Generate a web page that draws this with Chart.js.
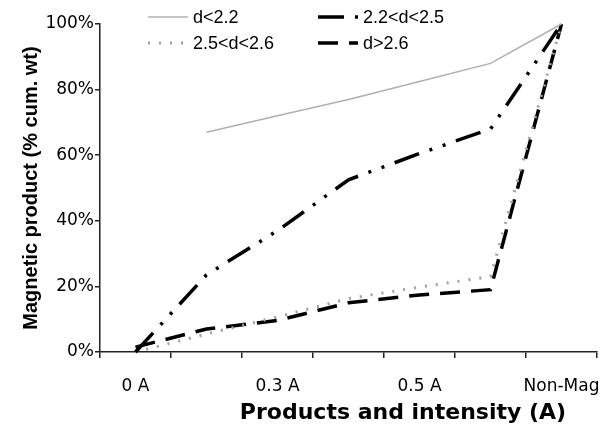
<!DOCTYPE html>
<html>
<head>
    <meta charset="utf-8">
    <script src="https://cdn.jsdelivr.net/npm/chart.js@4.4.0/dist/chart.umd.min.js"></script>
    <style>
        body { margin: 0; background: #fff; }
        #wrap { width: 603px; height: 428px; position: relative; }
    </style>
</head>
<body>
    <div id="wrap"><canvas id="plot"></canvas></div>
    <script>
        // categories (only every other one carries a label in the original)
        var categories = ['0 A', '', '0.3 A', '', '0.5 A', '', 'Non-Mag']

        // cumulative magnetic product, % wt
        var dLt22 = [null, 67, 72, 77, 82.5, 88, 100]
        var d22to25 = [0, 23.5, 37, 52.5, 60.5, 68, 100]
        var d25to26 = [0, 5.5, 10.7, 16.3, 19.8, 23, 100]
        var dGt26 = [1.5, 7, 9.6, 15, 17.4, 19, 100]

        var seriesNames = ['d<2.2', '2.2<d<2.5', '2.5<d<2.6', 'd>2.6']
        var yTicks = [0, 20, 40, 60, 80, 100]
        var xTitle = 'Products and intensity (A)'
        var yTitle = 'Magnetic product (% cum. wt)'

        // legend + x title drawn by hand so they sit where the original has them
        var overlay = {
            id: 'overlay',
            afterDraw: function (chart) {
                var ctx = chart.ctx
                var colX = [148, 318]
                var rowY = [17, 43]
                ctx.save()
                chart.data.datasets.forEach(function (ds, i) {
                    var x = colX[i % 2]
                    var y = rowY[Math.floor(i / 2)]
                    ctx.beginPath()
                    ctx.setLineDash(ds.borderDash || [])
                    ctx.lineWidth = ds.borderWidth
                    ctx.strokeStyle = ds.borderColor
                    ctx.lineCap = ds.borderCapStyle || 'butt'
                    ctx.moveTo(x, y)
                    ctx.lineTo(x + 40, y)
                    ctx.stroke()
                    ctx.setLineDash([])
                    ctx.fillStyle = '#000'
                    ctx.font = '18px "Liberation Sans"'
                    ctx.textBaseline = 'middle'
                    ctx.textAlign = 'left'
                    ctx.fillText(ds.label, x + 45, y + 1)
                })
                ctx.font = 'bold 22px "DejaVu Sans"'
                ctx.textAlign = 'center'
                ctx.textBaseline = 'middle'
                ctx.fillStyle = '#000'
                ctx.fillText(xTitle, 403, 413)
                ctx.restore()
            }
        }

        new Chart(document.getElementById('plot'), {
            type: 'line',
            data: {
                labels: categories,
                datasets: [{
                    label: seriesNames[0],
                    data: dLt22,
                    borderColor: '#b0b0b0',
                    borderWidth: 1.5,
                    pointRadius: 0,
                    tension: 0,
                    clip: false
                }, {
                    label: seriesNames[1],
                    data: d22to25,
                    borderColor: '#000',
                    borderWidth: 3.5,
                    borderDash: [26, 11, 3, 11, 3, 11],
                    pointRadius: 0,
                    tension: 0,
                    clip: false
                }, {
                    label: seriesNames[2],
                    data: d25to26,
                    borderColor: '#a0a0a0',
                    borderWidth: 3,
                    borderDash: [2, 9],
                    pointRadius: 0,
                    tension: 0,
                    clip: false
                }, {
                    label: seriesNames[3],
                    data: dGt26,
                    borderColor: '#000',
                    borderWidth: 3.5,
                    borderDash: [20, 11],
                    pointRadius: 0,
                    tension: 0,
                    clip: false
                }]
            },
            options: {
                responsive: true,
                maintainAspectRatio: false,
                animation: false,
                layout: { padding: { top: 24, right: 6, left: 0, bottom: 0 } },
                plugins: {
                    legend: { display: false },
                    tooltip: { enabled: false }
                },
                scales: {
                    x: {
                        offset: true,
                        afterFit: function (scale) {
                            scale.height = 76
                            scale.paddingLeft = 0
                            scale.paddingRight = 0
                        },
                        border: { display: true, color: '#222', width: 1.5 },
                        grid: {
                            offset: true,
                            drawOnChartArea: false,
                            drawTicks: true,
                            tickLength: 6,
                            color: '#222',
                            lineWidth: 1.5
                        },
                        ticks: {
                            autoSkip: false,
                            maxRotation: 0,
                            padding: 18,
                            color: '#000',
                            font: { family: '"DejaVu Sans"', size: 17 }
                        }
                    },
                    y: {
                        min: 0,
                        max: 100,
                        afterFit: function (scale) {
                            scale.width = 100
                            scale.paddingTop = 0
                            scale.paddingBottom = 0
                        },
                        afterBuildTicks: function (scale) {
                            scale.ticks = yTicks.map(function (v) { return { value: v } })
                        },
                        border: { display: true, color: '#222', width: 1.5 },
                        grid: {
                            drawOnChartArea: false,
                            drawTicks: true,
                            tickLength: 5,
                            color: '#222',
                            lineWidth: 1.5
                        },
                        ticks: {
                            padding: 1,
                            color: '#000',
                            font: { family: '"DejaVu Sans"', size: 17 },
                            callback: function (v) { return v + '%' }
                        },
                        title: {
                            display: true,
                            text: yTitle,
                            color: '#000',
                            padding: { top: 19, bottom: 0 },
                            font: { family: '"Liberation Sans"', size: 20, weight: 'bold' }
                        }
                    }
                }
            },
            plugins: [overlay]
        })
    </script>
</body>
</html>
